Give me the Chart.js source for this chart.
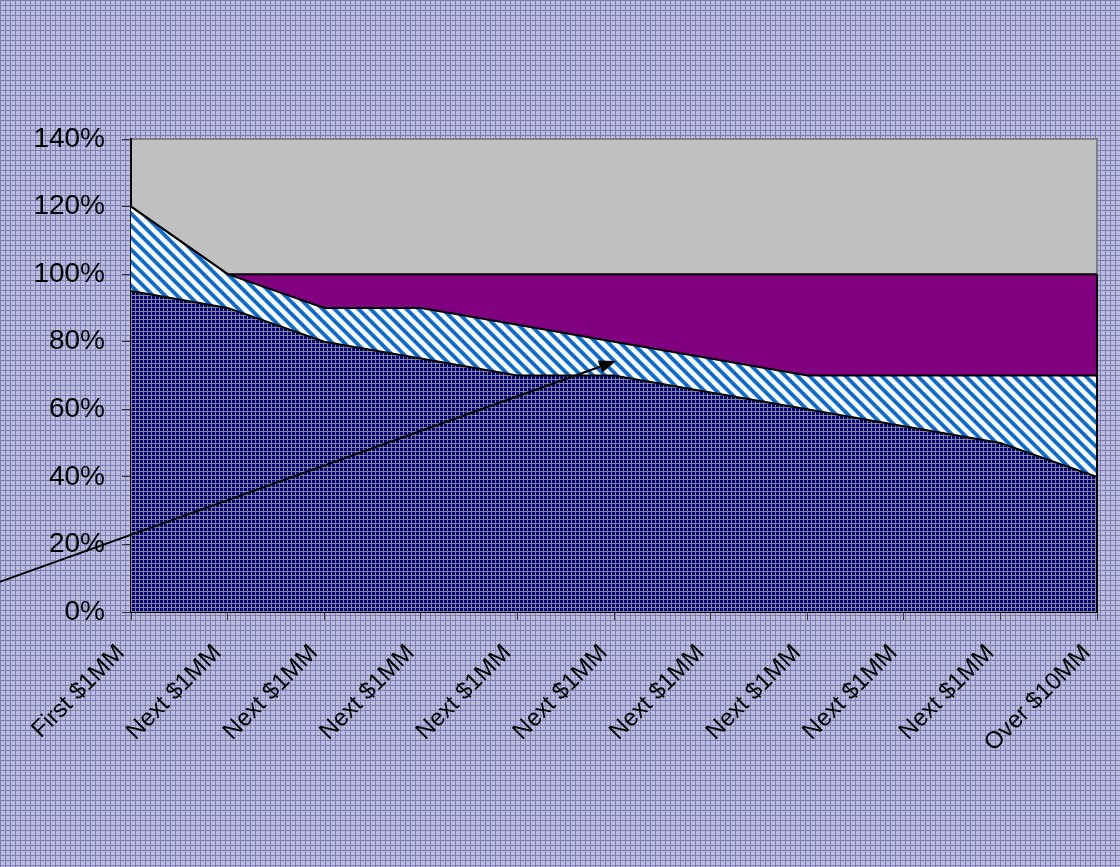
<!DOCTYPE html>
<html>
<head>
<meta charset="utf-8">
<script src="https://cdn.jsdelivr.net/npm/chart.js@4.4.1/dist/chart.umd.min.js"></script>
<style>
  html, body { margin: 0; padding: 0; background: #bcbcdc; }
  canvas { display: block; }
</style>
</head>
<body>
<canvas id="chart" width="1120" height="867"></canvas>
<script>
// Tiers of the fee schedule
const categories = ['First $1MM', 'Next $1MM', 'Next $1MM', 'Next $1MM', 'Next $1MM',
  'Next $1MM', 'Next $1MM', 'Next $1MM', 'Next $1MM', 'Next $1MM', 'Over $10MM'];

// Stacked shares (percent) per tier
const baseShare = [95, 90, 80, 75, 70, 70, 65, 60, 55, 50, 40];
const bandShare = [25, 10, 10, 15, 15, 10, 10, 10, 15, 20, 30];
const topShare  = [0, 0, 10, 10, 15, 20, 25, 30, 30, 30, 30];

// Value axis
const yMin = 0;
const yMax = 140;
const yStep = 20;

// Callout arrow, in axis units (category index, percent)
const calloutTail = [-1.36, 8.9];
const calloutTip = [5.02, 74.3];

function makePattern(size, paint) {
  const c = document.createElement('canvas');
  c.width = size; c.height = size;
  const g = c.getContext('2d');
  paint(g, size);
  return g.createPattern(c, 'repeat');
}

// Page background: lavender grid paper
const gridPaper = makePattern(5, (g, s) => {
  g.fillStyle = '#bcbcdc'; g.fillRect(0, 0, s, s);
  g.fillStyle = '#7e7eb6';
  g.fillRect(0, 0, s, 1);
  g.fillRect(0, 0, 1, s);
});

// Navy with fine grey dots
const navyDots = makePattern(4, (g, s) => {
  g.fillStyle = '#000080'; g.fillRect(0, 0, s, s);
  g.fillStyle = '#858595';
  g.fillRect(3, 0, 1, s);
  g.fillRect(0, 3, s, 1);
});

// White with blue downward diagonal stripes
const blueStripes = makePattern(12, (g, s) => {
  g.fillStyle = '#ffffff'; g.fillRect(0, 0, s, s);
  for (let y = 0; y < s; y++) {
    for (let x = 0; x < s; x++) {
      const d = (((x - y) % s) + s) % s;
      if (d < 4) { g.fillStyle = '#0a6cd0'; g.fillRect(x, y, 1, 1); }
      else if (d === 4 || d === s - 1) { g.fillStyle = '#5a9ce0'; g.fillRect(x, y, 1, 1); }
    }
  }
});

const decor = {
  id: 'decor',
  beforeDraw(chart) {
    const { ctx, chartArea: a } = chart;
    ctx.save();
    ctx.fillStyle = gridPaper;
    ctx.fillRect(0, 0, chart.width, chart.height);
    ctx.fillStyle = '#c0c0c0';
    ctx.fillRect(a.left, a.top, a.right - a.left, a.bottom - a.top);
    ctx.strokeStyle = '#808080';
    ctx.lineWidth = 2;
    ctx.beginPath();
    ctx.moveTo(a.left, a.top);
    ctx.lineTo(a.right, a.top);
    ctx.lineTo(a.right, a.bottom);
    ctx.stroke();
    ctx.restore();
  },
  afterDatasetsDraw(chart) {
    const { ctx, scales } = chart;
    const last = categories.length - 1;
    const total = baseShare[last] + bandShare[last] + topShare[last];
    const x = scales.x.getPixelForValue(last);
    ctx.save();
    ctx.strokeStyle = '#000';
    ctx.lineWidth = 2;
    ctx.beginPath();
    ctx.moveTo(x, scales.y.getPixelForValue(0));
    ctx.lineTo(x, scales.y.getPixelForValue(total));
    ctx.stroke();
    ctx.restore();
  },
  afterDraw(chart) {
    const { ctx, scales } = chart;
    const x0 = scales.x.getPixelForValue(calloutTail[0]);
    const y0 = scales.y.getPixelForValue(calloutTail[1]);
    const x1 = scales.x.getPixelForValue(calloutTip[0]);
    const y1 = scales.y.getPixelForValue(calloutTip[1]);
    const ang = Math.atan2(y1 - y0, x1 - x0);
    const head = 17, half = 6.5;
    const bx = x1 - head * Math.cos(ang), by = y1 - head * Math.sin(ang);
    ctx.save();
    ctx.strokeStyle = '#000';
    ctx.fillStyle = '#000';
    ctx.lineWidth = 2;
    ctx.beginPath();
    ctx.moveTo(x0, y0);
    ctx.lineTo(bx, by);
    ctx.stroke();
    ctx.beginPath();
    ctx.moveTo(x1, y1);
    ctx.lineTo(bx + half * Math.sin(ang), by - half * Math.cos(ang));
    ctx.lineTo(bx - half * Math.sin(ang), by + half * Math.cos(ang));
    ctx.closePath();
    ctx.fill();
    ctx.restore();
  }
};

const areaStyle = {
  borderColor: '#000000',
  borderWidth: 2,
  pointRadius: 0,
  pointHoverRadius: 0,
  tension: 0
};

new Chart(document.getElementById('chart'), {
  type: 'line',
  data: {
    labels: categories,
    datasets: [
      Object.assign({ label: 'Base', data: baseShare, backgroundColor: navyDots, fill: 'origin' }, areaStyle),
      Object.assign({ label: 'Band', data: bandShare, backgroundColor: blueStripes, fill: '-1' }, areaStyle),
      Object.assign({ label: 'Top', data: topShare, backgroundColor: '#800080', fill: '-1' }, areaStyle)
    ]
  },
  options: {
    responsive: false,
    animation: false,
    events: [],
    layout: { padding: { top: 139, right: 23, left: 0, bottom: 0 } },
    plugins: {
      legend: { display: false },
      tooltip: { enabled: false },
      title: { display: false }
    },
    scales: {
      x: {
        offset: false,
        z: 1,
        afterFit(s) {
          s.height = 867 - 612;
          s.paddingLeft = 0;
          s.paddingRight = 0;
        },
        border: { display: true, color: '#000', width: 2 },
        grid: { drawOnChartArea: false, drawTicks: true, tickLength: 8, color: '#333', lineWidth: 1 },
        ticks: {
          autoSkip: false,
          maxRotation: 45,
          minRotation: 45,
          padding: 19,
          labelOffset: -10,
          color: '#000',
          font: { family: '"Liberation Sans", Arial, sans-serif', size: 24 }
        }
      },
      y: {
        stacked: true,
        min: yMin,
        max: yMax,
        z: 1,
        afterFit(s) {
          s.width = 131;
          s.paddingTop = 0;
          s.paddingBottom = 0;
        },
        border: { display: true, color: '#000', width: 2 },
        grid: { drawOnChartArea: false, drawTicks: true, tickLength: 9, color: '#333', lineWidth: 1 },
        ticks: {
          stepSize: yStep,
          padding: 17,
          color: '#000',
          font: { family: '"Liberation Sans", Arial, sans-serif', size: 28 },
          callback: v => v + '%'
        }
      }
    }
  },
  plugins: [decor]
});
</script>
</body>
</html>
